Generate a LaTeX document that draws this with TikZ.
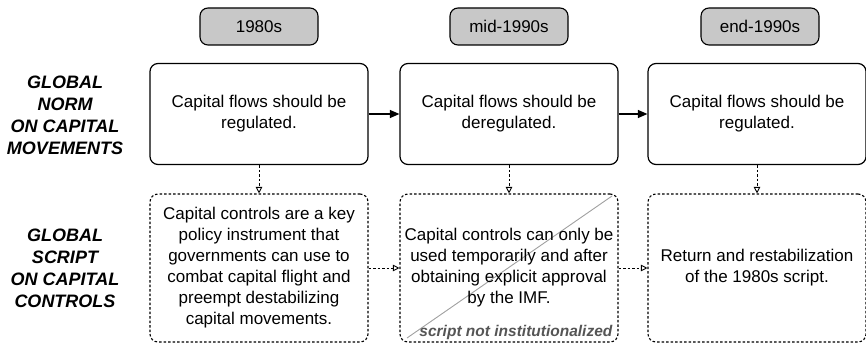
\documentclass[tikz,border=0pt]{standalone}
\usepackage{fontspec}
\setmainfont{Liberation Sans}
\usetikzlibrary{arrows.meta}
\definecolor{erafill}{RGB}{200,200,200}
\definecolor{notegray}{RGB}{85,85,85}
\definecolor{strike}{RGB}{160,160,160}
\begin{document}
\begin{tikzpicture}[x=1pt,y=-1pt,
  every node/.style={font=\fontsize{17}{21}\selectfont, align=center, inner sep=0pt},
  era/.style={draw, fill=erafill, rounded corners=8pt, line width=1.1pt,
    minimum width=118pt, minimum height=37pt},
  norm/.style={draw, rounded corners=8pt, line width=1.2pt,
    minimum width=218pt, minimum height=101pt},
  scriptbox/.style={draw, dash pattern=on 2.5pt off 2pt, rounded corners=8pt,
    line width=1.1pt, minimum width=218pt, minimum height=148pt},
  rowlabel/.style={font=\fontsize{18}{22}\selectfont\bfseries\itshape},
  solidarrow/.style={-{Triangle[length=9.5pt,width=8pt]}, line width=1.1pt},
  dasharrow/.style={-{Triangle[open,length=6.5pt,width=6.5pt,line width=0.9pt]},
    dash pattern=on 2.5pt off 2pt, line width=1pt}]
\useasboundingbox (0,0) rectangle (866,345);

% era headers
\node[era] (e1) at (259,26.5) {1980s};
\node[era] (e2) at (509,26.5) {mid-1990s};
\node[era] (e3) at (760,26.5) {end-1990s};

% row labels
\node[rowlabel] (l1) at (65,115) {GLOBAL\\NORM\\ON CAPITAL\\MOVEMENTS};
\node[rowlabel] (l2) at (65,268) {GLOBAL\\SCRIPT\\ON CAPITAL\\CONTROLS};

% norm row
\node[norm] (n1) at (259,114) {Capital flows should be\\regulated.};
\node[norm] (n2) at (509,114) {Capital flows should be\\deregulated.};
\node[norm] (n3) at (757,114) {Capital flows should be\\regulated.};

% script row
\node[scriptbox] (s1) at (259,268) {Capital controls are a key\\policy instrument that\\governments can use to\\combat capital flight and\\preempt destabilizing\\capital movements.};
\node[scriptbox] (s2) at (509,268) {};
\draw[strike, line width=0.9pt] ([xshift=-102pt,yshift=-70pt]s2.center) coordinate (sa)
  -- ([xshift=103pt,yshift=72pt]s2.center) coordinate (sb);
\node (s2text) at (s2.center) {Capital controls can only be\\used temporarily and after\\obtaining explicit approval\\by the IMF.};
\node[font=\fontsize{15.5}{18}\selectfont\bfseries\itshape, text=notegray, anchor=south east]
  (s2note) at ([xshift=-6pt,yshift=3pt]s2.south east) {script not institutionalized};
\node[scriptbox] (s3) at (757,268) {Return and restabilization\\of the 1980s script.};

% connectors
\draw[solidarrow] (n1) -- (n2);
\draw[solidarrow] (n2) -- (n3);
\draw[dasharrow] (n1) -- (s1);
\draw[dasharrow] (n2) -- (s2);
\draw[dasharrow] (n3) -- (s3);
\draw[dasharrow] (s1) -- (s2);
\draw[dasharrow] (s2) -- (s3);
\end{tikzpicture}
\end{document}
